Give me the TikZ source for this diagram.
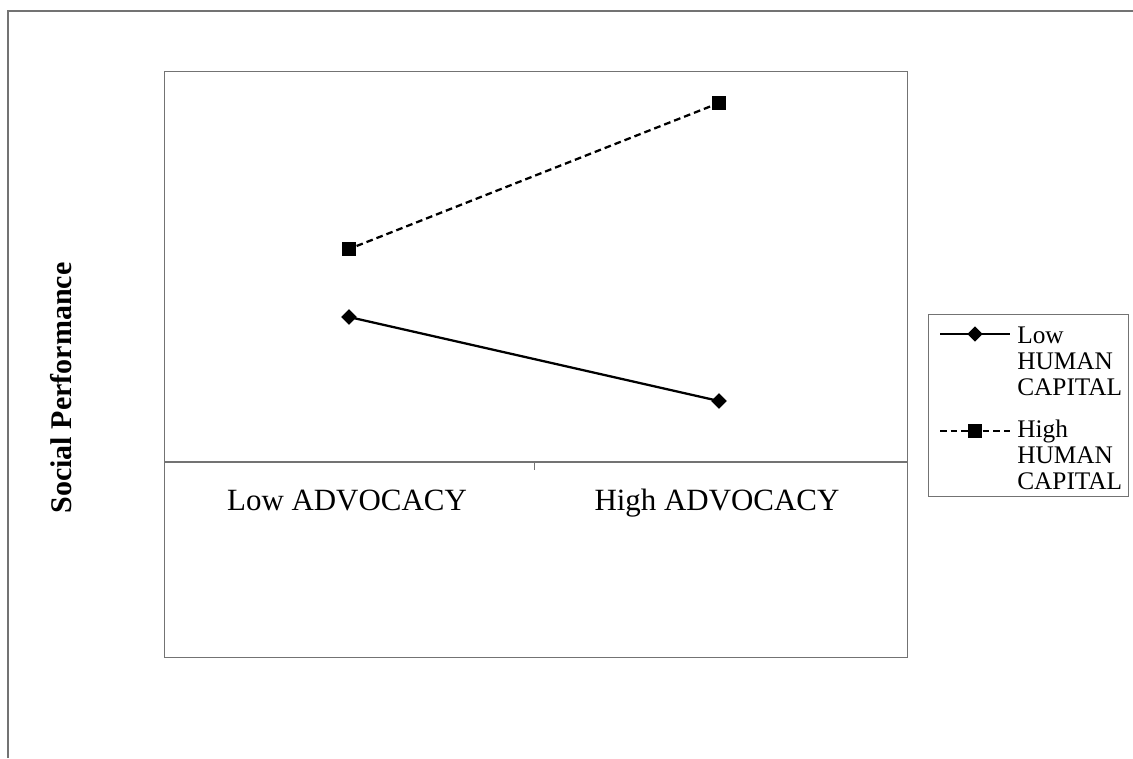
\documentclass[tikz,border=0pt]{standalone}
\usepackage{fontspec}
\setmainfont{Liberation Serif}
\usetikzlibrary{shapes.geometric}
\begin{document}
\begin{tikzpicture}[x=0.75pt,y=-0.75pt,
  frame/.style={draw=black!55, line width=1.1pt},
  axisline/.style={draw=black!55, line width=1pt},
  series/.style={line width=1.7pt, black},
  dia/.style={diamond, fill=black, inner sep=0pt, minimum size=11.5pt},
  sq/.style={rectangle, fill=black, inner sep=0pt, minimum size=11pt},
  axlabel/.style={font=\fontsize{23.2}{28}\selectfont, inner sep=0pt, anchor=base},
  legtext/.style={font=\fontsize{19}{19.5}\selectfont, anchor=base west, inner sep=0pt}]
\useasboundingbox (0,0) rectangle (1133,758);
% outer frame
\coordinate (ftl) at (8,11);
\coordinate (fbl) at (8,758);
\coordinate (ftr) at (1133,11);
\draw[frame] (fbl) -- (ftl) -- (ftr);
% plot area
\node[frame, draw, rectangle, minimum width=743*0.75pt, minimum height=586*0.75pt, inner sep=0pt, anchor=north west] (plot) at (164,71) {};
\coordinate (axL) at (164,462);
\coordinate (axR) at (907,462);
\coordinate (tk1) at (164,470);
\coordinate (tk2) at (534,462);
\coordinate (tk2b) at (534,470);
\coordinate (tk3) at (907,470);
\draw[axisline] (axL) -- (axR);
\draw[axisline, line width=0.6pt] (axL) -- (tk1) (tk2) -- (tk2b) (axR) -- (tk3);
\node[axlabel] (lowadv) at (347,510) {Low ADVOCACY};
\node[axlabel] (highadv) at (717,510) {High ADVOCACY};
\node[font=\bfseries\fontsize{22.5}{26}\selectfont, rotate=90, inner sep=0pt] (ylab) at (61,388) {Social Performance};
% series
\node[dia] (l1) at (349,317) {};
\node[dia] (l2) at (719,401) {};
\node[sq] (h1) at (349,249) {};
\node[sq] (h2) at (719,103) {};
\draw[series] (l1.center) -- (l2.center);
\draw[series, dashed, dash pattern=on 5pt off 3pt] (h1) -- (h2);
\node[dia] at (l1) {};
\node[dia] at (l2) {};
% legend
\node[frame, draw, rectangle, anchor=north west, minimum width=200*0.75pt, minimum height=182*0.75pt, inner sep=0pt] (leg) at (928,314) {};
\coordinate (la) at (940,334);
\coordinate (lb) at (1010,334);
\coordinate (ha) at (940,431);
\coordinate (hb) at (1010,431);
\draw[series] (la) -- (lb);
\node[dia] (ld) at (975,334) {};
\draw[series, dashed, dash pattern=on 5pt off 3pt] (ha) -- (hb);
\node[sq] (hd) at (975,431) {};
\node[legtext] (lt1) at (1017,343) {Low};
\node[legtext] (lt2) at (1017,369) {HUMAN};
\node[legtext] (lt3) at (1017,395) {CAPITAL};
\node[legtext] (ht1) at (1017,437) {High};
\node[legtext] (ht2) at (1017,463) {HUMAN};
\node[legtext] (ht3) at (1017,489) {CAPITAL};
\end{tikzpicture}
\end{document}
